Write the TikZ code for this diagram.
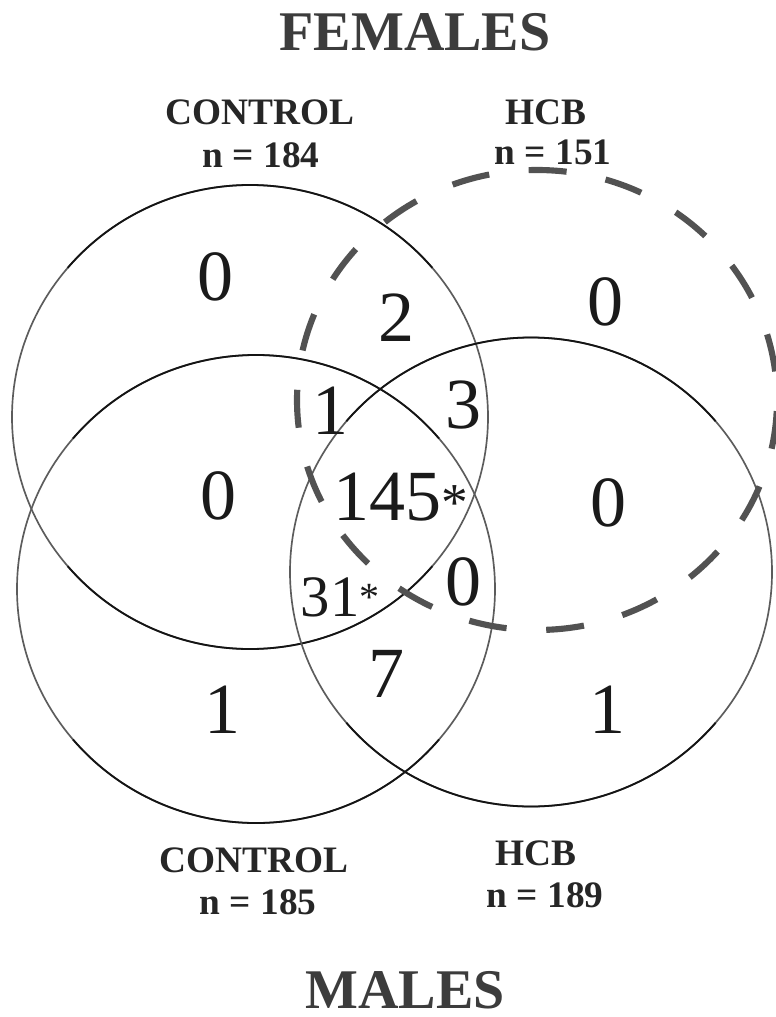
\documentclass[tikz,border=0pt]{standalone}
\usepackage{fontspec}
\setmainfont{Liberation Serif}
\definecolor{greyline}{HTML}{5C5C5C}
\definecolor{darkline}{HTML}{141414}
\definecolor{dashcol}{HTML}{525252}
\definecolor{titlecol}{HTML}{3C3C3C}
\definecolor{labelcol}{HTML}{262626}
\definecolor{numcol}{HTML}{1A1A1A}
\tikzset{
  greyarc/.style={draw=greyline, line width=1.25pt},
  darkarc/.style={draw=darkline, line width=1.35pt},
  hcbdash/.style={draw=dashcol, line width=4.6pt, dash pattern=on 28.5pt off 29.8pt, dash phase=50pt},
  titletext/.style={inner sep=0pt, text=titlecol, font=\fontsize{42}{44}\selectfont\bfseries},
  labeltext/.style={inner sep=0pt, text=labelcol, font=\fontsize{28}{30}\selectfont\bfseries},
  bignum/.style={inner sep=0pt, text=numcol, font=\fontsize{54}{56}\selectfont},
  midnum/.style={inner sep=0pt, text=numcol, font=\fontsize{44}{46}\selectfont},
}
\newcommand{\venncirc}[4]{%
  \draw[greyarc] (#1,#2) ellipse [x radius=#3, y radius=#4];
  \begin{scope}[shift={(#1,#2)}]
    \draw[darkarc] (40:#3 and #4) arc[start angle=40, end angle=140, x radius=#3, y radius=#4];
    \draw[darkarc] (220:#3 and #4) arc[start angle=220, end angle=320, x radius=#3, y radius=#4];
  \end{scope}
}
\newcommand{\smallstar}[2]{{\fontsize{#1}{#1}\selectfont\raisebox{#2}{*}}}
\begin{document}
\begin{tikzpicture}[x=0.75pt, y=-0.75pt]
\useasboundingbox (0,0) rectangle (775,1017);
\fill[white] (0,0) rectangle (775,1017);

% named centres
\coordinate (fc) at (250,417);
\coordinate (mc) at (256,589);
\coordinate (mh) at (531,572);
\coordinate (fh) at (537,400);

% solid circles
\venncirc{250}{417}{238}{232}
\venncirc{256}{589}{239}{234}
\venncirc{531}{572}{241}{234.5}

% dashed female HCB
\draw[hcbdash] (fh) ellipse [x radius=240, y radius=230];

% titles
\node[titletext] (females) at (415,32) {FEMALES};
\node[titletext] (males) at (405,990) {MALES};

% group labels
\node[labeltext] (fclab) at (260,112) {CONTROL};
\node[labeltext] (fcn) at (261,155) {n = 184};
\node[labeltext] (fhlab) at (546,112) {HCB};
\node[labeltext] (fhn) at (553,152) {n = 151};
\node[labeltext] (mclab) at (254,860) {CONTROL};
\node[labeltext] (mcn) at (258,902) {n = 185};
\node[labeltext] (mhlab) at (536,853) {HCB};
\node[labeltext] (mhn) at (545,895) {n = 189};

% region counts
\node[bignum] (r1) at (215,277) {0};
\node[bignum] (r2) at (396,318) {2};
\node[bignum] (r3) at (605,302) {0};
\node[bignum] (r4) at (330,411) {1};
\node[bignum] (r5) at (463,405) {3};
\node[bignum] (r6) at (218,496) {0};
\node[bignum] (r7) at (401,497) {145\smallstar{40}{0pt}};
\node[bignum] (r8) at (608,503) {0};
\node[midnum] (r9) at (340,597) {31\smallstar{30}{4pt}};
\node[bignum] (r10) at (463,582) {0};
\node[bignum] (r11) at (386,674) {7};
\node[bignum] (r12) at (222,710) {1};
\node[bignum] (r13) at (607,710) {1};
\end{tikzpicture}
\end{document}
